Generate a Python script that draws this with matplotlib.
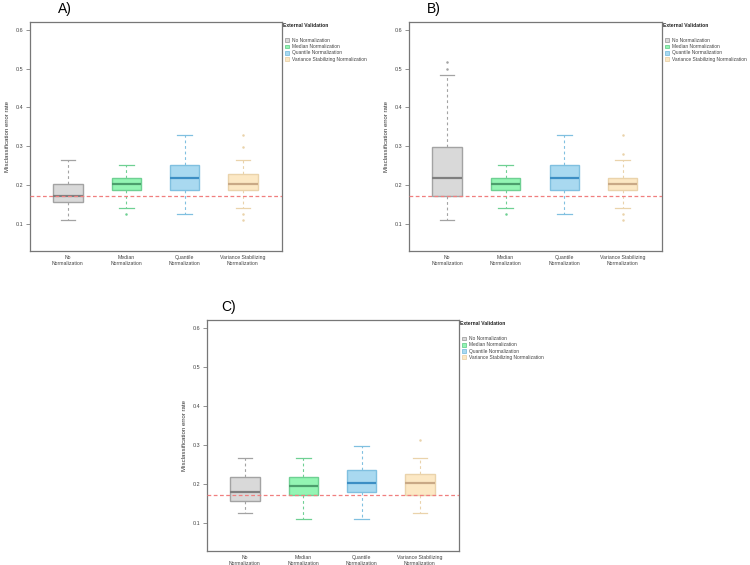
import matplotlib
matplotlib.use("Agg")
import matplotlib.pyplot as plt
from matplotlib.patches import Patch

plt.rcParams['font.family'] = ['Liberation Sans', 'DejaVu Sans']

categories = ["No\nNormalization", "Median\nNormalization", "Quantile\nNormalization",
              "Variance Stabilizing\nNormalization"]
legend_labels = ["No Normalization", "Median Normalization", "Quantile Normalization",
                 "Variance Stabilizing Normalization"]

# per panel: [whislo, q1, med, q3, whishi] for each method, plus outliers
panel_A_stats = [[0.1095, 0.156, 0.1716, 0.2026, 0.2655],
                 [0.1397, 0.187, 0.2034, 0.219, 0.251],
                 [0.124, 0.187, 0.219, 0.251, 0.3276],
                 [0.140, 0.187, 0.2034, 0.2276, 0.2655]]
panel_A_fliers = [[], [0.125], [], [0.125, 0.1095, 0.2974, 0.3276]]

panel_B_stats = [[0.1095, 0.1716, 0.219, 0.298, 0.4836],
                 [0.1397, 0.187, 0.2034, 0.219, 0.251],
                 [0.124, 0.187, 0.219, 0.251, 0.3276],
                 [0.140, 0.187, 0.2034, 0.219, 0.2655]]
panel_B_fliers = [[0.499, 0.517], [0.125], [], [0.125, 0.1095, 0.281, 0.3276]]

panel_C_stats = [[0.1267, 0.1568, 0.180, 0.2196, 0.2661],
                 [0.1112, 0.1731, 0.1955, 0.2196, 0.2661],
                 [0.111, 0.180, 0.204, 0.236, 0.297],
                 [0.1267, 0.173, 0.204, 0.2274, 0.2661]]
panel_C_fliers = [[], [], [], [0.3126]]

reference_line = [0.1707, 0.1707, 0.1725]
panel_titles = ["A)", "B)", "C)"]
legend_title = "External Validation"

fills = ["#d9d9d9", "#93f5b3", "#a9d9f0", "#fce8c4"]
edges = ["#a3a3a3", "#6fd093", "#80c0e0", "#ead3ab"]
medians = ["#7f7f7f", "#4c9e6c", "#3c8ec4", "#c9a986"]

fig = plt.figure(figsize=(7.5, 5.65), dpi=100)
W, H = 750.0, 565.0

def add_axes(l, r, t, b):
    return fig.add_axes([l / W, 1 - b / H, (r - l) / W, (b - t) / H])

axA = add_axes(30, 282, 22, 251)
axB = add_axes(409, 662, 22, 251)
axC = add_axes(207, 459, 320, 551)

panels = [(axA, panel_A_stats, panel_A_fliers),
          (axB, panel_B_stats, panel_B_fliers),
          (axC, panel_C_stats, panel_C_fliers)]
title_x = [0.111, 0.071, 0.056]

for i, (ax, stats, fliers) in enumerate(panels):
    for j in range(4):
        lo, q1, med, q3, hi = stats[j]
        st = [dict(whislo=lo, q1=q1, med=med, q3=q3, whishi=hi, fliers=fliers[j])]
        ax.bxp(st, positions=[j + 1], widths=0.5, patch_artist=True, showfliers=True,
               boxprops=dict(facecolor=fills[j], edgecolor=edges[j], linewidth=1.0),
               medianprops=dict(color=medians[j], linewidth=1.6),
               whiskerprops=dict(color=edges[j], linestyle=(0, (2.5, 2.5)), linewidth=0.8),
               capprops=dict(color=edges[j], linewidth=0.9),
               capwidths=0.25,
               flierprops=dict(marker='o', markersize=0.8, markerfacecolor=edges[j],
                               markeredgecolor=edges[j], linestyle='none'))
    ax.axhline(reference_line[i], color="#f07f7f", linestyle=(0, (3, 2)), linewidth=0.9, zorder=5)
    ax.set_xlim(0.35, 4.67)
    ax.set_ylim(0.029, 0.621)
    ax.set_yticks([0.1, 0.2, 0.3, 0.4, 0.5, 0.6])
    ax.set_yticklabels(["0.1", "0.2", "0.3", "0.4", "0.5", "0.6"])
    ax.set_xticks([1, 2, 3, 4])
    ax.set_xticklabels(categories, linespacing=1.1)
    ax.tick_params(axis='x', length=0, pad=3, labelsize=3.7, labelcolor="#444444")
    ax.tick_params(axis='y', length=3, width=0.5, color="#666666", pad=2,
                   labelsize=3.9, labelcolor="#444444")
    for s in ax.spines.values():
        s.set_color("#777777")
        s.set_linewidth(0.9)
    ax.set_ylabel("Misclassification error rate", fontsize=4.4, color="#333333", labelpad=4)
    ax.text(title_x[i], 1.055, panel_titles[i], transform=ax.transAxes, fontsize=10,
            ha="left", va="center")
    ax.text(1.004, 0.985, legend_title, transform=ax.transAxes, fontsize=3.6,
            fontweight="bold", ha="left", va="center", color="#222222")
    handles = [Patch(facecolor=fills[k], edgecolor=edges[k], linewidth=0.6) for k in range(4)]
    leg = ax.legend(handles, legend_labels, loc="upper left",
                    bbox_to_anchor=(1.012, 0.93), frameon=False, fontsize=3.5,
                    handlelength=0.8, handleheight=0.8, handletextpad=0.7,
                    labelspacing=0.25, borderaxespad=0.0, borderpad=0.0)
    for t in leg.get_texts():
        t.set_color("#444444")

fig.savefig("out.png", dpi=100)
